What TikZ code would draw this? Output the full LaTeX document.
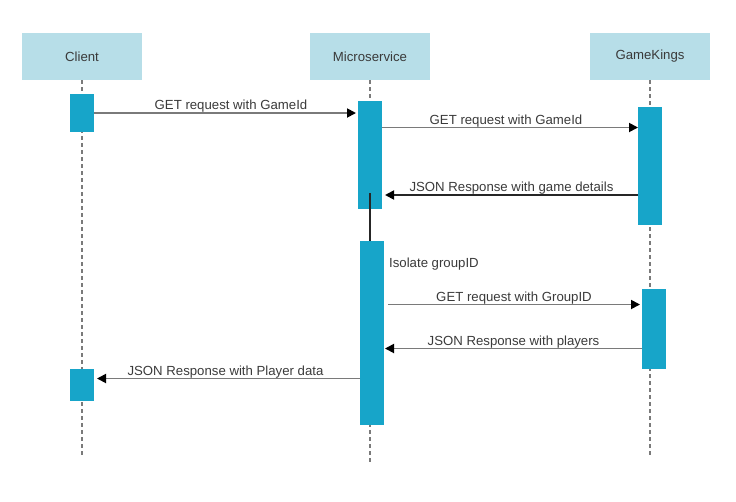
\documentclass[tikz,border=0pt]{standalone}
\usepackage{fontspec}
\setmainfont{Liberation Sans}
\usetikzlibrary{arrows.meta}
\definecolor{hdr}{HTML}{B7DEE8}
\definecolor{act}{HTML}{17A5C9}
\definecolor{txt}{HTML}{3A3A3A}
\definecolor{ln}{HTML}{7A7A7A}
\tikzset{
  header/.style={fill=hdr, draw=none, minimum width=120pt, minimum height=47pt, inner sep=0pt, text=txt, font=\fontsize{13.2}{15}\selectfont},
  actbox/.style={fill=act, draw=none},
  life/.style={draw=ln, line width=1.8pt, dash pattern=on 4pt off 3pt},
  msg/.style={draw=ln, line width=1.8pt, -{Triangle[length=9pt,width=9pt,color=black]}},
  msgdark/.style={draw=black!85, line width=1.8pt, -{Triangle[length=9pt,width=9pt,color=black]}},
  lbl/.style={anchor=base, yshift=3.5pt, inner sep=0pt, text=txt, font=\fontsize{13.2}{15}\selectfont},
  note/.style={anchor=west, inner sep=0pt, text=txt, font=\fontsize{13.2}{15}\selectfont}
}
\begin{document}
\begin{tikzpicture}[x=1pt,y=-1pt]
\useasboundingbox (0,0) rectangle (736,501);
% headers
\node[header] (client) at (82,56.5) {Client};
\node[header] (micro) at (370,56.5) {Microservice};
\node[header] (gk) at (650,56.5) {GameKings};
% lifeline ends
\coordinate (clientEnd) at (82,455);
\coordinate (microEnd) at (370,464);
\coordinate (gkEnd) at (650,455);
\draw[life] (client.south) -- (clientEnd);
\draw[life] (micro.south) -- (microEnd);
\draw[life] (gk.south) -- (gkEnd);
% activation boxes
\fill[actbox] (70,94) rectangle (94,131.5);
\fill[actbox] (70,369) rectangle (94,400.5);
\fill[actbox] (358,101) rectangle (382,208.5);
\fill[actbox] (360,241) rectangle (384,424.5);
\fill[actbox] (638,107) rectangle (662,224.5);
\fill[actbox] (642,289) rectangle (666,368.5);
% dark link between micro activations
\coordinate (linkA) at (370,193);
\coordinate (linkB) at (370,241);
\draw[black!85, line width=1.8pt] (linkA) -- (linkB);
% message endpoints
\coordinate (m1a) at (94,113);   \coordinate (m1b) at (356,113);
\coordinate (m2a) at (382,127.5);\coordinate (m2b) at (638,127.5);
\coordinate (m3a) at (638,195);  \coordinate (m3b) at (385,195);
\coordinate (m5a) at (388,304.5);\coordinate (m5b) at (640,304.5);
\coordinate (m6a) at (642,348.5);\coordinate (m6b) at (385,348.5);
\coordinate (m7a) at (360,378.5);\coordinate (m7b) at (97,378.5);
\draw[msg] (m1a) -- node[lbl, xshift=6pt] (l1) {GET request with GameId} (m1b);
\draw[msg] (m2a) -- node[lbl, xshift=-4pt] (l2) {GET request with GameId} (m2b);
\draw[msgdark] (m3a) -- node[lbl] (l3) {JSON Response with game details} (m3b);
\node[note] (iso) at (389,264) {Isolate groupID};
\draw[msg] (m5a) -- node[lbl] (l5) {GET request with GroupID} (m5b);
\draw[msg] (m6a) -- node[lbl] (l6) {JSON Response with players} (m6b);
\draw[msg] (m7a) -- node[lbl, xshift=-3pt] (l7) {JSON Response with Player data} (m7b);
\end{tikzpicture}
\end{document}
